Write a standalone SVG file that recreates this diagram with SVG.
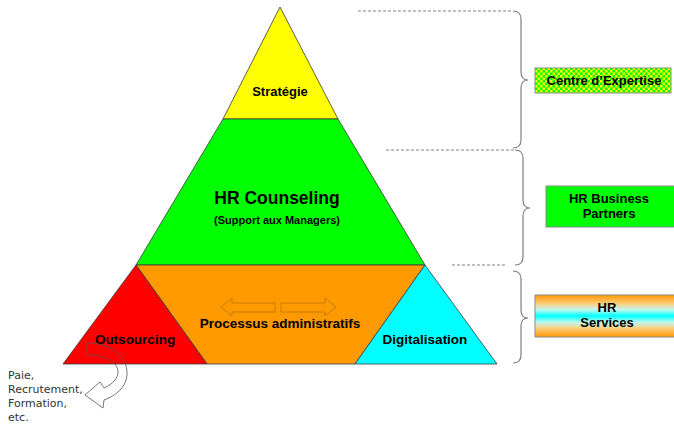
<svg xmlns="http://www.w3.org/2000/svg" width="674" height="425" viewBox="0 0 674 425">
<style>
.shape{stroke:#3a3a3a;stroke-width:0.8;stroke-linejoin:round}
.lbl{font-family:"Liberation Sans",Arial,sans-serif;font-weight:bold;fill:#000;text-anchor:middle}
.dash{stroke:#808080;stroke-width:1;stroke-dasharray:3,2;fill:none}
.brace{stroke:#808080;stroke-width:1.2;fill:none}
.box{stroke:#8a8a8a;stroke-width:1}
.note{font-family:"DejaVu Sans",Verdana,sans-serif;font-size:11px;fill:#333}
.harrow{fill:#ff9900;stroke:#b87400;stroke-width:0.8}
</style>
<defs>
<pattern id="chk" width="5" height="5" patternUnits="userSpaceOnUse">
<rect width="5" height="5" fill="#00ff00"/>
<rect width="2.5" height="2.5" fill="#ffff00"/>
<rect x="2.5" y="2.5" width="2.5" height="2.5" fill="#ffff00"/>
</pattern>
<linearGradient id="svc" x1="0" y1="0" x2="0" y2="1">
<stop offset="0" stop-color="#ff9900"/>
<stop offset="0.2" stop-color="#ffcc77"/>
<stop offset="0.35" stop-color="#bff8f0"/>
<stop offset="0.5" stop-color="#00ffff"/>
<stop offset="0.65" stop-color="#bff8f0"/>
<stop offset="0.8" stop-color="#ffcc77"/>
<stop offset="1" stop-color="#ff9900"/>
</linearGradient>
</defs>

<g id="strategie">
<polygon class="shape" points="280,7 338,119 223,119" fill="#ffff00"/>
<text class="lbl" x="280" y="96" font-size="13">Stratégie</text>
</g>
<g id="hr-counseling">
<polygon class="shape" points="223,119 338,119 425,265 136,265" fill="#00ff00"/>
<text class="lbl" x="277" y="204" font-size="17.5">HR Counseling</text>
<text class="lbl" x="277" y="224" font-size="11">(Support aux Managers)</text>
</g>
<g id="processus">
<polygon class="shape" points="136,265 425,265 355,364 207,364" fill="#ff9900"/>
<polygon class="harrow" points="221,307 232,298 232,303 275,303 275,312 232,312 232,316"/>
<polygon class="harrow" points="336,307 325,298 325,303 281,303 281,312 325,312 325,316"/>
<text class="lbl" x="280" y="328" font-size="13.5">Processus administratifs</text>
</g>
<g id="outsourcing">
<polygon class="shape" points="136,265 207,364 63,364" fill="#ff0000"/>
<text class="lbl" x="135" y="344" font-size="13.5">Outsourcing</text>
</g>
<g id="digitalisation">
<polygon class="shape" points="425,265 497,364 355,364" fill="#00ffff"/>
<text class="lbl" x="425" y="344" font-size="13.5">Digitalisation</text>
</g>

<g id="connectors">
<line class="dash" x1="358" y1="11" x2="513" y2="11"/>
<line class="dash" x1="386" y1="150" x2="514" y2="150"/>
<line class="dash" x1="452" y1="265" x2="507" y2="265"/>
<path class="brace" d="M513,11 Q521,11 521,19 L521,72 Q521,80 528,80 Q521,80 521,88 L521,140 Q521,148 513,148"/>
<path class="brace" d="M515,150 Q523,150 523,158 L523,200 Q523,208 530,208 Q523,208 523,216 L523,257 Q523,265 515,265"/>
<path class="brace" d="M513,271 Q521,271 521,279 L521,310 Q521,318 528,318 Q521,318 521,326 L521,355 Q521,363 513,363"/>
<path d="M87,343 C110,343 128,355 127,375 C126,388 115,396 104,400 L103,408 L85,395 L100,382 L104,388 C113,384 118,378 118,372 C118,362 105,355 87,355 Z" fill="none" stroke="#555" stroke-width="0.8"/>
</g>

<g id="centre-expertise">
<rect class="box" x="535" y="68" width="136" height="25" fill="url(#chk)"/>
<text class="lbl" x="604" y="85" font-size="13">Centre d’Expertise</text>
</g>
<g id="hr-business-partners">
<rect class="box" x="546" y="186" width="130" height="41" fill="#00ff00"/>
<text class="lbl" x="609" y="203" font-size="13">HR Business</text>
<text class="lbl" x="609" y="218" font-size="13">Partners</text>
</g>
<g id="hr-services">
<rect class="box" x="535" y="295" width="141" height="42" fill="url(#svc)"/>
<text class="lbl" x="607" y="312" font-size="13">HR</text>
<text class="lbl" x="607" y="327" font-size="13">Services</text>
</g>
<g id="outsourcing-note">
<text class="note" x="8" y="379">Paie,</text>
<text class="note" x="8" y="393">Recrutement,</text>
<text class="note" x="8" y="407">Formation,</text>
<text class="note" x="8" y="421">etc.</text>
</g>
</svg>
